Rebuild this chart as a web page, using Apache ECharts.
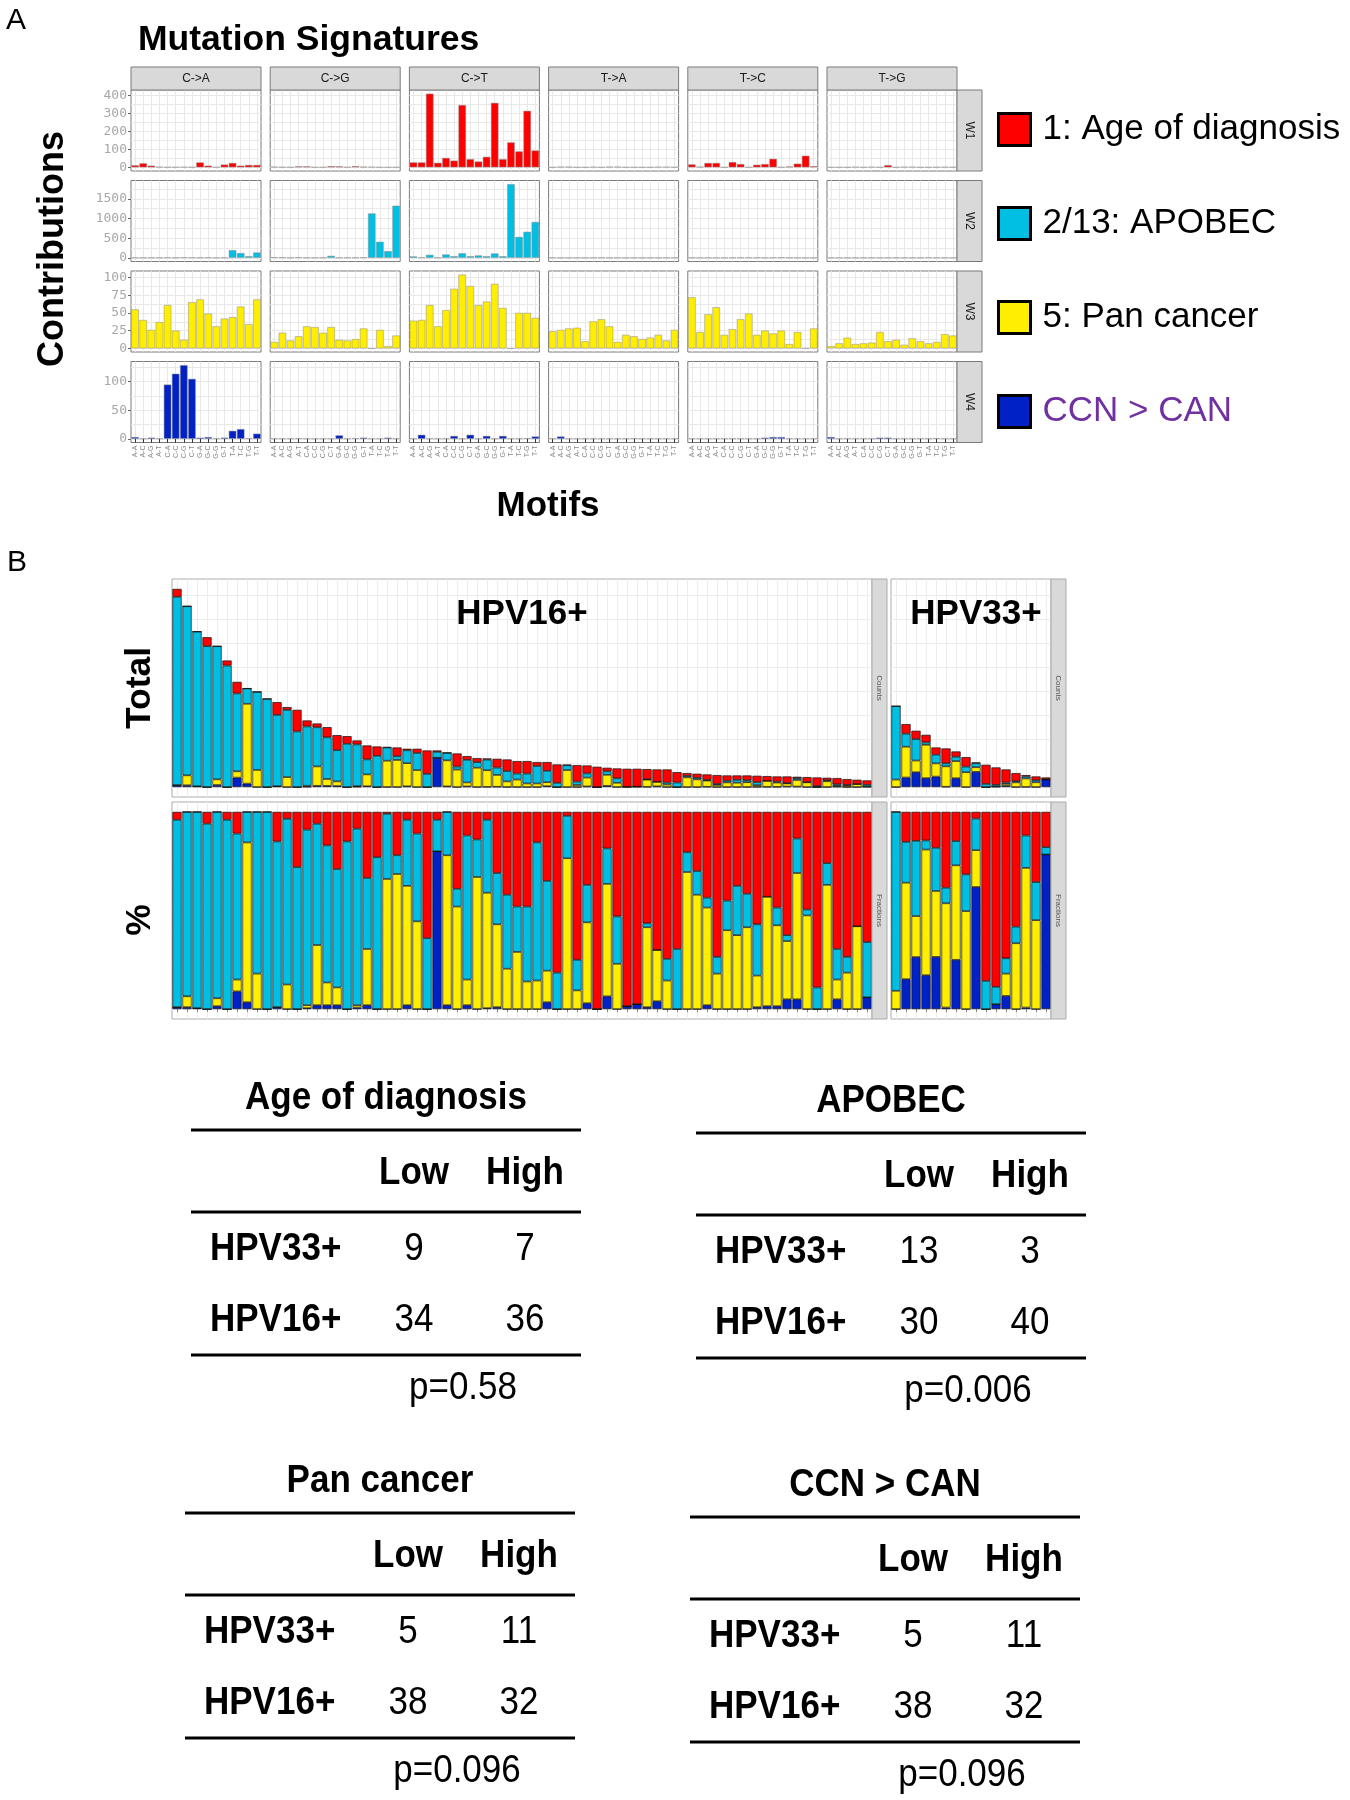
<!DOCTYPE html>
<html><head><meta charset="utf-8">
<script src="https://cdn.jsdelivr.net/npm/echarts@6/dist/echarts.min.js"></script>
<style>html,body{margin:0;padding:0;background:#fff}#c{width:1350px;height:1800px}</style>
</head><body><div id="c"></div>
<script>
// ---------------- DATA ----------------
const mutationTypes = ['C->A','C->G','C->T','T->A','T->C','T->G'];
const motifs = ['A-A','A-C','A-G','A-T','C-A','C-C','C-G','C-T','G-A','G-C','G-G','G-T','T-A','T-C','T-G','T-T'];
const signatureNames = ['1: Age of diagnosis','2/13: APOBEC','5: Pan cancer','CCN > CAN'];
const signatureRows = ['W1','W2','W3','W4'];
const rowTickLabels = [[0,100,200,300,400],[0,500,1000,1500],[0,25,50,75,100],[0,50,100]];

// contributions per mutation type (C->A, C->G, C->T, T->A, T->C, T->G), 16 motifs each
const w1Contrib = [
  [11,22,9,3,1,1,2,1,27,9,1,15,24,9,13,13],
  [3,1,1,5,5,1,1,6,5,1,6,3,2,0.5,0.5,0.5],
  [27,27,408,25,52,37,345,45,32,58,357,45,138,88,313,93],
  [0.5,3,3,0.5,0.5,2,0.5,3,3,0.5,1,0.5,0.5,2,2,1],
  [16,3,24,24,0.5,29,18,0.5,14,18,47,0.5,4,20,64,6],
  [0.5,0.5,0.5,2,0.5,2,0.5,12,0.5,2,2,0.5,0.5,1,2,1]
];
const w2Contrib = [
  [5,3,3,5,8,3,10,8,5,8,3,5,195,120,40,135],
  [15,10,5,12,8,5,5,50,5,5,5,10,1127,407,170,1322],
  [35,10,75,5,85,40,115,40,60,40,110,40,1870,530,660,910],
  [3,2,2,3,2,3,5,2,3,2,3,2,3,2,3,2],
  [3,2,3,2,2,3,5,8,5,3,6,10,5,3,2,2],
  [2,3,2,3,2,3,2,3,5,2,3,2,8,5,3,2]
];
const w3Contrib = [
  [55,40,26,37,61,25,12,65,69,49,31,42,44,59,34,69],
  [9,22,11,17,31,30,22,30,12,11,13,28,0,26,3,18],
  [39,40,61,31,54,84,104,88,61,66,91,57,0,50,50,43],
  [24,26,28,29,10,38,41,31,9,19,17,13,15,19,11,26],
  [72,23,48,58,19,27,41,49,19,25,21,25,6,23,0,28],
  [3,7,15,6,7,8,23,10,12,5,14,10,7,9,20,18]
];
const w4Contrib = [
  [3,0.5,2,0.5,95,114,129,105,2,3,0.5,2,14,17,1,9],
  [0.5,0.5,0.5,1,0.5,0.5,0.5,0.5,6,0.5,1,2,0.5,0.5,2,0.5],
  [0.5,7,0.5,0.5,0.5,5,0.5,7,0.5,5,0.5,5,0.5,0.5,1,4],
  [0.5,4,0.5,0.5,0.5,0.5,0.5,0.5,0.5,0.5,1,0.5,0.5,0.5,0.5,0.5],
  [0.5,0.5,0.5,0.5,0.5,0.5,0.5,0.5,0.5,2,3,3,0.5,0.5,0.5,0.5],
  [3,0.5,0.5,0.5,0.5,0.5,2,2,0.5,0.5,0.5,0.5,0.5,1,0.5,0.5]
];

// Panel B: total counts per sample and fraction of each signature
const hpv16Total = [4132,3771,3243,3125,2937,2639,2194,2056,1986,1840,
  1771,1667,1611,1389,1326,1250,1083,1062,972,868,
  847,833,826,799,799,764,764,715,701,646,
  604,597,590,576,542,542,521,521,472,465,
  458,451,424,403,389,382,382,375,368,368,
  312,292,278,264,250,243,243,243,236,229,
  222,222,215,208,201,194,188,167,153,139];
const hpv16Age = [.04,0,0,.06,0,.04,.11,0,0,0, .15,.035,.28,.09,.06,.17,.29,.15,.085,.335,
  .23,.01,.22,.04,.11,.64,.04,0,.39,.12, .14,.04,.31,.42,.48,.48,.155,.35,.815,.02,
  .75,.37,1,.185,.53,.985,.975,.565,.70,.745, .695,.205,.30,.435,.735,.45,.375,.415,.57,.43,
  .485,.625,.135,.495,.89,.26,.695,.735,.58,.66];
const hpv16Apobec = [.95,.935,.995,.94,.945,.96,.74,.155,.82,1, .84,.84,.72,.89,.615,.695,.60,.85,.895,.36,
  .77,.33,.095,.335,.445,.36,.16,.22,.09,.73, .19,.37,.26,.375,.23,.38,.70,.455,.185,.215,
  .155,.19,0,.18,.24,0,0,.02,0,.11, .305,.10,.12,.05,.085,.15,.25,.17,.26,0,
  .09,.03,.175,.03,.11,.11,.155,.08,0,.28];
const hpv16Pan = [0,.055,0,0,.04,0,.06,.81,.18,0, 0,.125,0,.015,.305,.115,.09,0,.012,.285,
  0,.66,.685,.605,.445,0,0,.76,.52,.13, .67,.585,.42,.205,.29,.14,.145,.16,0,.765,
  .095,.41,0,.57,.23,0,0,.405,.26,.145, 0,.695,.58,.495,.18,.40,.375,.415,.16,.555,
  .41,.295,.64,.475,0,.63,.10,.185,.42,0];
const hpv16Ccn = [.01,.01,.005,0,.015,0,.09,.035,0,0, .01,0,0,.005,.02,.02,.02,0,.008,.02,
  0,0,0,.02,0,0,.80,.02,0,.02, 0,.005,.01,0,0,0,0,.035,0,0,
  0,.03,0,.065,0,.015,.025,.01,.04,0, 0,0,0,.02,0,0,0,0,.01,.015,
  .015,.05,.05,0,0,0,.05,0,0,.06];

const hpv33Total = [1688,1313,1174,1090,826,806,743,625,514,465,410,368,292,250,222,201];
const hpv33Age = [0,.152,.148,.145,.182,.384,.148,.317,.034,.857,.887,.742,.582,.12,.356,.179];
const hpv33Apobec = [.907,.207,.384,.046,.219,.079,.123,.186,.16,.143,.088,.078,.084,.164,.193,.037];
const hpv33Pan = [.093,.489,.209,.637,.334,.528,.479,.497,.187,0,0,.113,.334,.708,.451,0];
const hpv33Ccn = [0,.152,.266,.172,.265,.008,.25,0,.619,0,.025,.067,0,.008,0,.784];
const countTicks = [0,1000,2000,3000,4000];
const fractionTicks = [0,0.25,0.5,0.75,1];

// Tables
const tableTitles = ['Age of diagnosis','APOBEC','Pan cancer','CCN > CAN'];
const tableColLabels = ['Low','High'];
const tableRowLabels = ['HPV33+','HPV16+'];
const tableCounts = [[[9,7],[34,36]],[[13,3],[30,40]],[[5,11],[38,32]],[[5,11],[38,32]]];
const tablePValues = ['p=0.58','p=0.006','p=0.096','p=0.096'];

// ---------------- STYLE / LAYOUT ----------------
const sigColors = ['#FF0000','#00BFE3','#FFEE00','#0021C6'];
const FONT = '"Liberation Sans", Arial, sans-serif';
const A = {left:131, stepX:139.2, w:130, top:90, stepY:90.5, h:81};
const grids=[], xAxes=[], yAxes=[], series=[], graphics=[];

function minorsOf(majors, lo, hi){
  const step = majors[1]-majors[0]; const out=[];
  for(let v=majors[0]-step/2; v<=hi; v+=step){ if(v>=lo) out.push(v); }
  return out;
}
function txt(text,x,y,size,opts){
  opts=opts||{};
  graphics.push({type:'text', x:x, y:y, rotation:opts.rot||0, scaleY:opts.sy||1, z:50,
    style:{text:text, font:(opts.bold?'bold ':'')+size+'px '+FONT, fill:opts.color||'#000',
      align:opts.align||'center', verticalAlign:'middle', textAlign:opts.align||'center', textVerticalAlign:'middle'}});
}
function rect(x,y,w,h,fill,stroke){
  graphics.push({type:'rect', z:40, shape:{x:x,y:y,width:w,height:h}, style:{fill:fill, stroke:stroke, lineWidth:1}});
}
function hline(x1,x2,y,w){
  graphics.push({type:'line', z:40, shape:{x1:x1,y1:y,x2:x2,y2:y}, style:{stroke:'#000', lineWidth:w}});
}

// ---------------- PANEL A ----------------
const contribRows = [w1Contrib,w2Contrib,w3Contrib,w4Contrib];
for(let r=0;r<4;r++){
  const mx = Math.max(...contribRows[r].flat());
  const lo = -0.05*mx, hi = 1.05*mx;
  const majors = rowTickLabels[r];
  const allTicks = majors.concat(minorsOf(majors,lo,hi));
  for(let c=0;c<6;c++){
    const gi = grids.length;
    grids.push({left:A.left+c*A.stepX, top:A.top+r*A.stepY, width:A.w, height:A.h,
      show:true, backgroundColor:'#fff', borderColor:'#7a7a7a', borderWidth:1});
    xAxes.push({type:'category', gridIndex:gi, data:motifs, boundaryGap:true,
      axisLine:{show:false},
      axisTick:{show:r===3, alignWithLabel:true, interval:0, length:4, lineStyle:{color:'#333',width:1}},
      axisLabel:{show:r===3, interval:0, rotate:90, fontSize:7, color:'#8a8a8a', margin:3, fontFamily:FONT},
      splitLine:{show:true, alignWithLabel:true, interval:0, lineStyle:{color:'#e8e8e8',width:1}}});
    const yi = yAxes.length;
    yAxes.push({type:'value', gridIndex:gi, min:lo, max:hi, axisLine:{show:false},
      axisTick:{show:c===0, customValues:majors, length:3, lineStyle:{color:'#666'}},
      axisLabel:{show:c===0, customValues:majors, formatter:v=>String(v), fontSize:13, color:'#a8a8a8',
        fontFamily:'"DejaVu Sans Mono", monospace', margin:4},
      splitLine:{show:false}});
    yAxes.push({type:'value', gridIndex:gi, min:lo, max:hi, axisLine:{show:false},
      axisTick:{show:false, customValues:allTicks}, axisLabel:{show:false},
      splitLine:{show:true, lineStyle:{color:'#e8e8e8',width:1}}});
    series.push({type:'bar', name:signatureNames[r], xAxisIndex:gi, yAxisIndex:yi,
      data:contribRows[r][c], barCategoryGap:'8%', silent:true,
      itemStyle:{color:sigColors[r], borderColor:'#8c8c8c', borderWidth:0.5}});
    if(r===0){ // top strip
      const x = A.left+c*A.stepX;
      rect(x, 67, A.w, 23, '#D9D9D9', '#7a7a7a');
      txt(mutationTypes[c], x+A.w/2, 79, 12, {color:'#1a1a1a'});
    }
  }
  // right strip
  const sx = A.left+5*A.stepX+A.w, sy = A.top+r*A.stepY;
  rect(sx, sy, 25, A.h, '#D9D9D9', '#7a7a7a');
  txt(signatureRows[r], sx+12.5, sy+A.h/2, 12, {rot:-Math.PI/2, color:'#1a1a1a'});
}
txt('A', 16, 21, 30);
txt('Mutation Signatures', 138, 40, 35.5, {bold:true, align:'left'});
txt('Contributions', 53, 249, 36, {bold:true, rot:Math.PI/2});
txt('Motifs', 548, 506, 35, {bold:true});

// ---------------- PANEL B ----------------
const groups = [
  {label:'HPV16+', total:hpv16Total, fr:[hpv16Age,hpv16Apobec,hpv16Pan,hpv16Ccn], left:172, width:700, lx:522},
  {label:'HPV33+', total:hpv33Total, fr:[hpv33Age,hpv33Apobec,hpv33Pan,hpv33Ccn], left:891, width:160, lx:976}
];
const maxTotal = Math.max(...hpv16Total, ...hpv33Total);
const bRows = [
  {top:579, h:218, lo:-0.05*maxTotal, hi:1.05*maxTotal, ticks:countTicks, strip:'Counts', pct:false},
  {top:802, h:217, lo:-0.05, hi:1.05, ticks:fractionTicks, strip:'Fractions', pct:true}
];
bRows.forEach((row, ri)=>{
  const allTicks = row.ticks.concat(minorsOf(row.ticks,row.lo,row.hi));
  groups.forEach(g=>{
    const gi = grids.length;
    const samples = g.total.map((_,i)=>g.label+'_'+(i+1));
    grids.push({left:g.left, top:row.top, width:g.width, height:row.h, show:true,
      backgroundColor:'#fff', borderColor:'#ababab', borderWidth:1});
    xAxes.push({type:'category', gridIndex:gi, data:samples, boundaryGap:true, axisLine:{show:false},
      axisTick:{show:ri===1, alignWithLabel:true, interval:0, length:3, lineStyle:{color:'#888'}},
      axisLabel:{show:false},
      splitLine:{show:true, alignWithLabel:true, interval:0, lineStyle:{color:'#ececec',width:1}}});
    const yi = yAxes.length;
    yAxes.push({type:'value', gridIndex:gi, min:row.lo, max:row.hi, axisLine:{show:false},
      axisTick:{show:false, customValues:allTicks}, axisLabel:{show:false},
      splitLine:{show:true, lineStyle:{color:'#ececec',width:1}}});
    // stack bottom -> top: CCN, Pan, APOBEC, Age
    [3,2,1,0].forEach(k=>{
      const data = g.total.map((t,i)=>{
        const s = g.fr[0][i]+g.fr[1][i]+g.fr[2][i]+g.fr[3][i];
        const f = g.fr[k][i]/s;
        return row.pct ? f : f*t;
      });
      series.push({type:'bar', name:signatureNames[k], xAxisIndex:gi, yAxisIndex:yi, stack:'s'+gi,
        data:data, barCategoryGap:'8%', silent:true,
        itemStyle:{color:sigColors[k], borderColor:'#111', borderWidth:0.7}});
    });
    rect(g.left+g.width, row.top, 15, row.h, '#D9D9D9', '#ababab');
    txt(row.strip, g.left+g.width+7.5, row.top+row.h/2, 8, {rot:-Math.PI/2, color:'#555'});
    if(ri===0) txt(g.label, g.lx, 614, 35, {bold:true});
  });
});
txt('B', 17, 563, 30);
txt('Total', 140, 688, 35.5, {bold:true, rot:Math.PI/2});
txt('%', 140, 920, 35.5, {bold:true, rot:Math.PI/2});

// ---------------- TABLES ----------------
const tablePos = [{L:191,Y:1130},{L:696,Y:1133},{L:185,Y:1513},{L:690,Y:1517}];
tableTitles.forEach((t,ti)=>{
  const L = tablePos[ti].L, Y = tablePos[ti].Y;
  txt(t, L+195, Y-32, 35, {bold:true, sy:1.1});
  hline(L, L+390, Y, 3);
  tableColLabels.forEach((cl,ci)=> txt(cl, L+223+ci*111, Y+43, 35, {bold:true, sy:1.1}));
  hline(L, L+390, Y+82, 3);
  tableRowLabels.forEach((rl,rj)=>{
    const yy = Y+119+rj*71;
    txt(rl, L+19, yy, 35, {bold:true, align:'left', sy:1.1});
    tableCounts[ti][rj].forEach((v,ci)=> txt(String(v), L+223+ci*111, yy, 35, {sy:1.1}));
  });
  hline(L, L+390, Y+225, 3);
  txt(tablePValues[ti], L+272, Y+258, 35, {sy:1.1});
});

// ---------------- CHART ----------------
const chart = echarts.init(document.getElementById('c'), null, {renderer:'canvas', width:1350, height:1800});
chart.setOption({
  animation:false,
  backgroundColor:'#fff',
  grid:grids, xAxis:xAxes, yAxis:yAxes, series:series,
  legend:{orient:'vertical', left:992, top:107, itemWidth:32, itemHeight:32, itemGap:59, icon:'rect',
    selectedMode:false,
    itemStyle:{borderColor:'#000', borderWidth:3},
    textStyle:{fontSize:35, fontFamily:FONT, color:'#000', padding:[0,0,0,7]},
    data:signatureNames.map((n,i)=> i===3 ? {name:n, textStyle:{color:'#7030A0'}} : {name:n})},
  graphic:graphics
});
</script></body></html>
